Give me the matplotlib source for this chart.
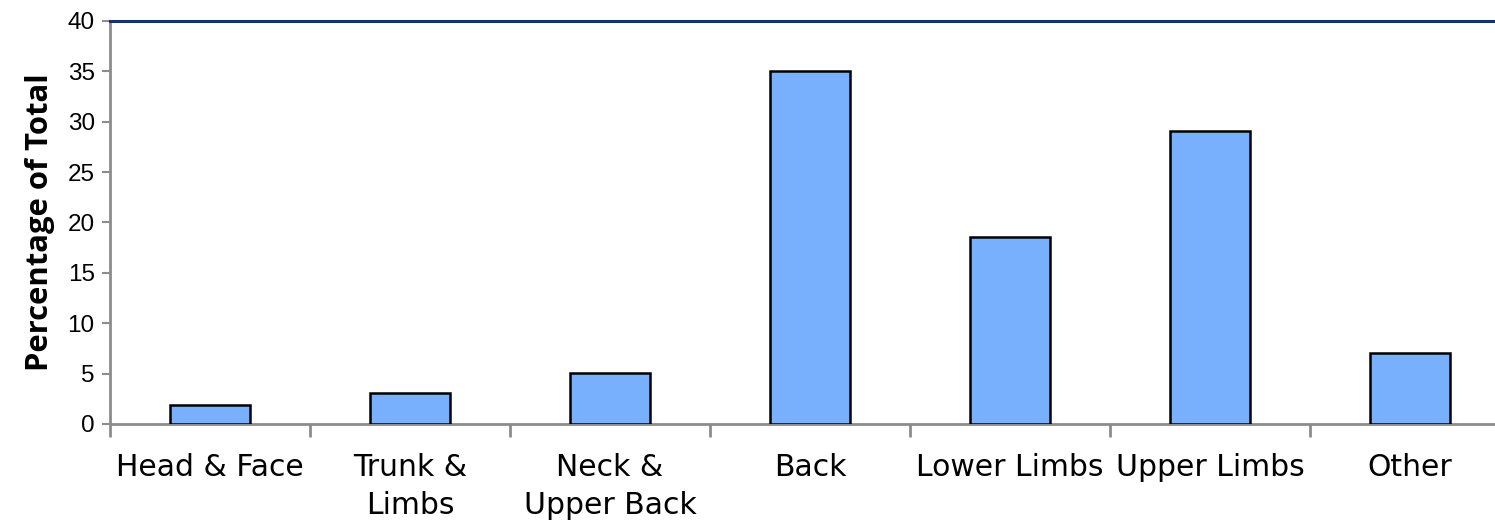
import matplotlib
matplotlib.use("Agg")
import matplotlib.pyplot as plt
import numpy as np

categories = ["Head & Face", "Trunk &\nLimbs", "Neck &\nUpper Back", "Back",
              "Lower Limbs", "Upper Limbs", "Other"]
percent = [1.9, 3.1, 5.05, 35.05, 18.6, 29.1, 7.05]

fig = plt.figure(figsize=(14.95, 5.22), dpi=100)
# axes runs a little past the right edge of the figure
ax = fig.add_axes([110 / 1495, 98 / 522, 1400 / 1495, 403 / 522])

x = np.arange(len(categories))
ax.bar(x, percent, width=0.4, color="#78B0FD", edgecolor="black", linewidth=1.8, zorder=3)

ax.set_xlim(-0.5, len(categories) - 0.5)
ax.set_ylim(0, 40)
ax.set_yticks(np.arange(0, 41, 5))

grey = "#8C8C8C"
ax.spines["right"].set_visible(False)
ax.spines["left"].set_color(grey)
ax.spines["left"].set_linewidth(2)
ax.spines["bottom"].set_color(grey)
ax.spines["bottom"].set_linewidth(2)
ax.spines["top"].set_color("#17306B")
ax.spines["top"].set_linewidth(2.2)

ax.tick_params(axis="y", colors=grey, length=6, width=1.5, labelsize=17.5,
               labelcolor="black", pad=5)
for lbl in ax.get_yticklabels():
    lbl.set_fontfamily("Liberation Sans")

# category names at bar centres, tick marks at the boundaries
ax.set_xticks(x)
ax.set_xticklabels(categories, fontsize=21.5, fontfamily="DejaVu Sans", linespacing=1.4)
ax.tick_params(axis="x", which="major", length=0, pad=21)
ax.set_xticks(np.arange(len(categories) + 1) - 0.5, minor=True)
ax.tick_params(axis="x", which="minor", length=9, width=2, color=grey)

ax.set_ylabel("Percentage of Total", fontsize=22.3, fontweight="bold",
              fontfamily="Open Sans", labelpad=9)

fig.savefig("out.png", dpi=100)
